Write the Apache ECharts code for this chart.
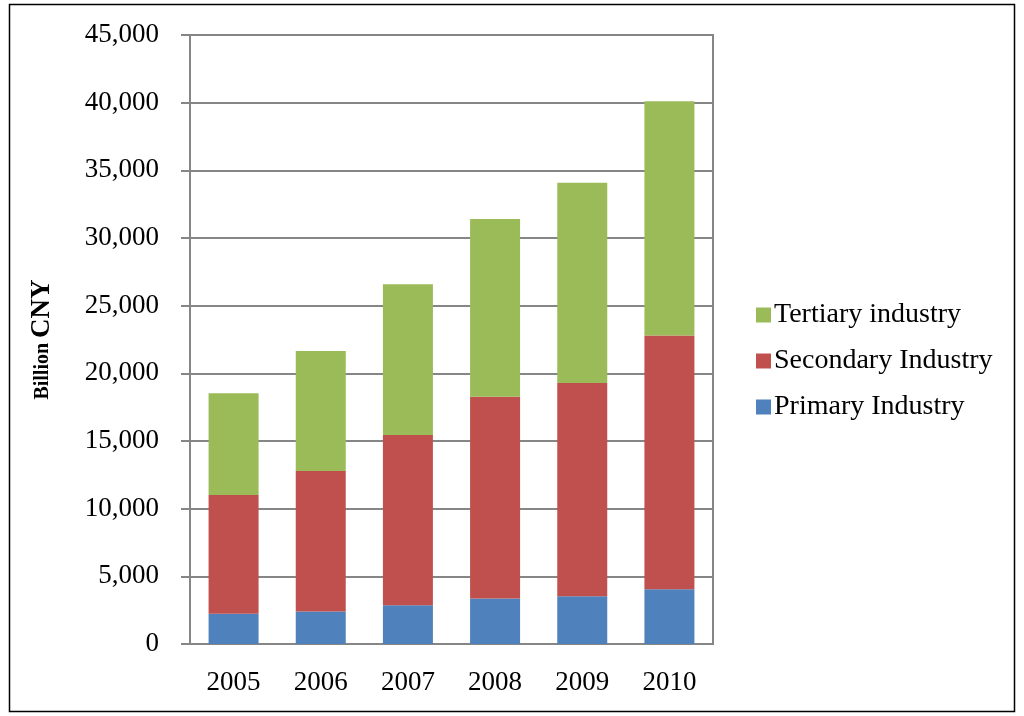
<!DOCTYPE html>
<html><head><meta charset="utf-8">
<script src="https://cdn.jsdelivr.net/npm/echarts@6/dist/echarts.min.js"></script>
<style>html,body{margin:0;padding:0;background:#fff}#c{width:1024px;height:716px}</style>
</head><body><div id="c"></div>
<script>
const years = ['2005','2006','2007','2008','2009','2010'];
const primary = [2242, 2404, 2862, 3370, 3522, 4053];
const secondary = [8760, 10371, 12583, 14900, 15764, 18738];
const tertiary = [7534, 8882, 11138, 13134, 14803, 17317];
const seriesNames = ['Primary Industry', 'Secondary Industry', 'Tertiary industry'];
const colors = ['#4F81BD', '#C0504D', '#9BBB59'];

const chart = echarts.init(document.getElementById('c'));
const font = 'Liberation Serif, Times New Roman, serif';
const mk = (name, data, color) => ({
  name, type: 'bar', stack: 'total', data, barWidth: 50,
  itemStyle: { color }, emphasis: { disabled: true }
});
chart.setOption({
  animation: false,
  graphic: [{ type: 'rect', shape: { x: 9.5, y: 4.5, width: 1005, height: 707 },
    style: { fill: 'none', stroke: '#000', lineWidth: 1.5 } }],
  grid: { left: 190, right: 311, top: 35, bottom: 72, show: true, borderColor: '#868686', borderWidth: 2 },
  legend: {
    orient: 'vertical', left: 751, top: 296, itemWidth: 15, itemHeight: 15, itemGap: 18, icon: 'rect',
    data: ['Tertiary industry', 'Secondary Industry', 'Primary Industry'],
    textStyle: { fontFamily: font, fontSize: 28, color: '#000', padding: [0, 0, 0, -2] }
  },
  xAxis: {
    type: 'category', data: years,
    axisLine: { lineStyle: { color: '#868686', width: 2 } },
    axisTick: { show: false },
    axisLabel: { fontFamily: font, fontSize: 27, color: '#000', margin: 25 }
  },
  yAxis: {
    type: 'value', min: 0, max: 45000, interval: 5000,
    name: '{a|Billion }{b|CNY}', nameLocation: 'middle', nameRotate: 90, nameGap: 134,
    nameTextStyle: { rich: {
      a: { fontFamily: font, fontSize: 20, fontWeight: 'bold', color: '#000' },
      b: { fontFamily: font, fontSize: 27, fontWeight: 'bold', color: '#000' } } },
    axisLine: { show: true, lineStyle: { color: '#868686', width: 2 } },
    axisTick: { show: true, length: 9, lineStyle: { color: '#868686', width: 2 } },
    splitLine: { lineStyle: { color: '#868686', width: 2 } },
    axisLabel: { fontFamily: font, fontSize: 27, color: '#000', margin: 31,
      formatter: v => v.toLocaleString('en-US') }
  },
  series: [
    mk(seriesNames[0], primary, colors[0]),
    mk(seriesNames[1], secondary, colors[1]),
    mk(seriesNames[2], tertiary, colors[2])
  ]
});
</script></body></html>
